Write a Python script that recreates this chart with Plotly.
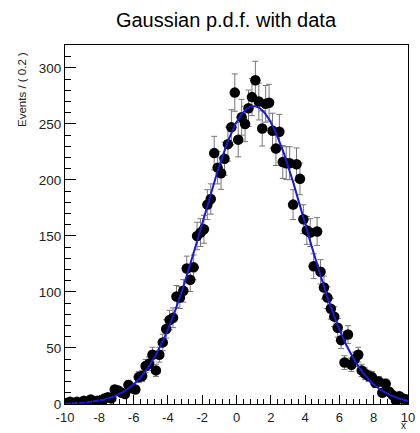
import numpy as np
import plotly.graph_objects as go

# Bin centres (100 bins of width 0.2 on [-10, 10])
BIN_WIDTH = 0.2
bin_centers = [round(-9.9 + BIN_WIDTH * i, 1) for i in range(100)]

# Event counts per bin
counts = [
    1, 2, 1, 2, 1, 3, 1, 4, 2, 3,            # -9.9 .. -8.1
    2, 5, 6, 5, 13, 12, 10, 9, 17, 14,       # -7.9 .. -6.1
    13, 24, 25, 34, 36, 44, 30, 44, 55, 67,  # -5.9 .. -4.1
    75, 77, 96, 95, 101, 121, 111, 122, 150, 153,   # -3.9 .. -2.1
    156, 178, 183, 224, 211, 206, 219, 232, 247, 278,  # -1.9 .. -0.1
    236, 256, 250, 264, 274, 289, 270, 246, 268, 269,  # 0.1 .. 1.9
    244, 228, 243, 216, 215, 215, 178, 214, 201, 165,  # 2.1 .. 3.9
    155, 153, 123, 154, 118, 104, 95, 85, 78, 68,      # 4.1 .. 5.9
    57, 37, 62, 35, 40, 44, 30, 27, 25, 24,            # 6.1 .. 7.9
    19, 20, 10, 18, 11, 8, 3, 7, 5, 4,                 # 8.1 .. 9.9
]

# Gaussian p.d.f. parameters (RooFit example: mean 1, sigma 3, 10000 events)
MEAN = 1.0
SIGMA = 3.0
N_EVENTS = 10000

x_ticks = [-10, -8, -6, -4, -2, 0, 2, 4, 6, 8, 10]
y_ticks = [0, 50, 100, 150, 200, 250, 300]

errors = [float(np.sqrt(c)) for c in counts]

xc = np.linspace(-10, 10, 801)
yc = N_EVENTS * BIN_WIDTH / (SIGMA * np.sqrt(2 * np.pi)) * np.exp(-0.5 * ((xc - MEAN) / SIGMA) ** 2)

FONT = "Liberation Sans, Arial, Helvetica, sans-serif"

fig = go.Figure()
fig.add_trace(go.Scatter(
    x=bin_centers, y=counts, mode="markers",
    marker=dict(color="black", size=10.5, symbol="circle"),
    error_y=dict(type="data", array=errors, visible=True, color="#777777", thickness=1, width=3),
    showlegend=False, cliponaxis=True,
))
fig.add_trace(go.Scatter(
    x=xc, y=yc, mode="lines",
    line=dict(color="#1a1ad8", width=2),
    showlegend=False,
))

fig.update_layout(
    width=420, height=433,
    margin=dict(l=65, r=5, t=45, b=29),
    paper_bgcolor="white", plot_bgcolor="white",
    font=dict(family=FONT, color="black", size=13),
    title=dict(text="Gaussian p.d.f. with data", x=0.538, xref="container", xanchor="center",
               y=1 - 20 / 433, yref="container", yanchor="middle",
               font=dict(size=20, family=FONT, color="black")),
)
fig.update_xaxes(
    range=[-10, 10], tickvals=x_ticks, ticktext=[str(v) for v in x_ticks],
    ticks="inside", ticklen=9, tickcolor="black", tickwidth=1,
    minor=dict(dtick=0.4, tick0=-10, ticks="inside", ticklen=5, tickcolor="black"),
    showline=True, linecolor="black", linewidth=1, mirror=True,
    showgrid=False, zeroline=False, tickfont=dict(size=13, family=FONT, color="#222222"),
    ticklabeloverflow="allow", ticklabelstandoff=1,
)
fig.update_yaxes(
    range=[0, 320.5], tickvals=y_ticks, ticktext=[str(v) for v in y_ticks],
    ticks="inside", ticklen=11, tickcolor="black", tickwidth=1,
    minor=dict(dtick=10, tick0=0, ticks="inside", ticklen=5.5, tickcolor="black"),
    showline=True, linecolor="black", linewidth=1, mirror=True,
    showgrid=False, zeroline=False, tickfont=dict(size=13.5, family=FONT, color="#222222"),
    ticklabeloverflow="allow",
)
fig.add_annotation(text="Events / ( 0.2 )", textangle=-90, xref="paper", yref="paper",
                   x=-0.126, y=0.987, xanchor="center", yanchor="top", showarrow=False,
                   font=dict(size=11.5, family=FONT, color="#222222"))
fig.add_annotation(text="x", xref="paper", yref="paper", x=0.988, y=-29 / 359,
                   xanchor="center", yanchor="bottom", showarrow=False,
                   font=dict(size=10, family=FONT, color="#222222"))

fig.write_html("out.html")
